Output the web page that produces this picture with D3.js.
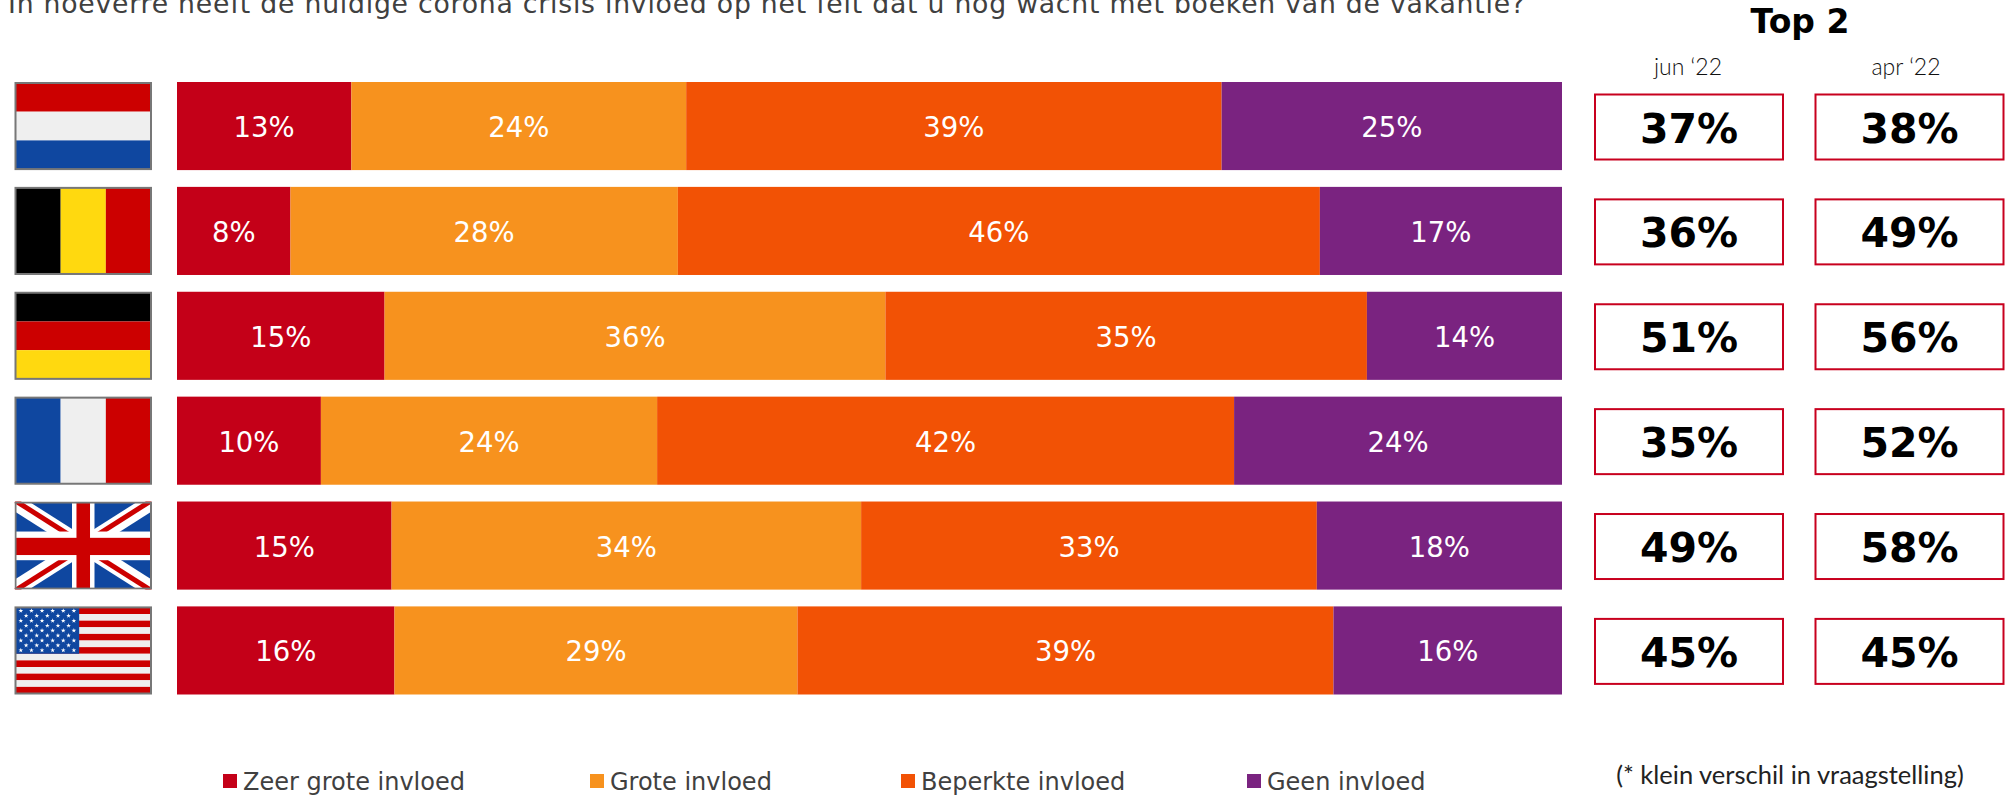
<!DOCTYPE html>
<html><head><meta charset="utf-8">
<script src="https://cdn.jsdelivr.net/npm/d3@7"></script>
<style>html,body{margin:0;padding:0;background:#fff;overflow:hidden}svg{display:block}
text{font-family:"DejaVu Sans",sans-serif}</style></head><body>
<svg id="c" width="2005" height="795"></svg>
<script>
const countries=["NL","BE","DE","FR","UK","US"];
const seriesNames=["Zeer grote invloed","Grote invloed","Beperkte invloed","Geen invloed"];
const zeerGroot=[12.6,8.2,15.0,10.4,15.49,15.7];
const groot=[24.2,28.0,36.2,24.3,33.9,29.1];
const beperkt=[38.7,46.4,34.8,41.7,32.9,38.7];
const geen=[24.6,17.5,14.1,23.7,17.7,16.5];
const top2Jun=[37,36,51,35,49,45];
const top2Apr=[38,49,56,52,58,45];
const barLabels=[[13,24,39,25],[8,28,46,17],[15,36,35,14],[10,24,42,24],[15,34,33,18],[16,29,39,16]];
const periods=["jun ‘22","apr ‘22"];
const seriesColors=["#c40018","#f7921e","#f25205","#7a2380"];
const titleText="In hoeverre heeft de huidige corona crisis invloed op het feit dat u nog wacht met boeken van de vakantie?";
const noteText="(* klein verschil in vraagstelling)";

const svg=d3.select("#c");
const rows=countries.map((c,i)=>({c,s0:zeerGroot[i],s1:groot[i],s2:beperkt[i],s3:geen[i]}));
const y=d3.scaleBand().domain(countries).range([82,694.5]).paddingInner(0.16);
const x=d3.scaleLinear().domain([0,1]).range([177,1562]);
const stack=d3.stack().keys(["s0","s1","s2","s3"]).offset(d3.stackOffsetExpand);

svg.append("text").attr("x",8).attr("y",13).attr("font-size",26.7).attr("fill","#404040").attr("textLength",1517).attr("lengthAdjust","spacing").text(titleText);

// bars
const layers=svg.selectAll("g.layer").data(stack(rows)).join("g").attr("class","layer").attr("fill",(d,i)=>seriesColors[i]);
layers.selectAll("rect").data(d=>d).join("rect")
 .attr("x",d=>x(d[0])).attr("width",d=>x(d[1])-x(d[0]))
 .attr("y",d=>y(d.data.c)).attr("height",y.bandwidth());
svg.append("g").selectAll("g").data(stack(rows)).join("g").each(function(layer,i){
 d3.select(this).selectAll("text").data(layer).join("text")
  .attr("x",d=>(x(d[0])+x(d[1]))/2).attr("y",d=>y(d.data.c)+y.bandwidth()/2+11)
  .attr("text-anchor","middle").attr("font-size",27.5).attr("fill","#fff")
  .text((d,r)=>barLabels[r][i]+"%");
});

// flags
const fx=d3.scaleLinear().domain([0,1]).range([15.5,151]);
const red="#cc0000",blue="#0f47a0",white="#efefef",yellow="#ffd90f",black="#000";
const hStripes={NL:[red,white,blue],DE:[black,red,yellow]};
const vStripes={BE:[black,yellow,red],FR:[blue,white,red]};
countries.forEach((c,ci)=>{
 const g=svg.append("g");
 const fy=d3.scaleLinear().domain([0,1]).range([y(c)+1,y(c)+y.bandwidth()-1]);
 const R=(a,b,w,h,f)=>g.append("rect").attr("x",fx(a)).attr("y",fy(b)).attr("width",fx(a+w)-fx(a)).attr("height",fy(b+h)-fy(b)).attr("fill",f);
 if(hStripes[c]) hStripes[c].forEach((f,i)=>R(0,i/3,1,1/3,f));
 if(vStripes[c]) vStripes[c].forEach((f,i)=>R(i/3,0,1/3,1,f));
 if(c==="UK"){
  const id="clip-uk";
  svg.append("clipPath").attr("id",id).append("rect").attr("x",fx(0)-1).attr("y",fy(0)-1).attr("width",fx(1)-fx(0)+2).attr("height",fy(1)-fy(0)+2);
  g.attr("clip-path",`url(#${id})`);
  R(0,0,1,1,blue);
  const L=(a,b,cc,dd,col,w)=>g.append("line").attr("x1",fx(a)).attr("y1",fy(b)).attr("x2",fx(cc)).attr("y2",fy(dd)).attr("stroke",col).attr("stroke-width",w);
  L(0,0,1,1,"#fff",16);L(0,1,1,0,"#fff",16);
  L(0,-0.02,0.5,0.48,red,5);L(0.5,0.52,1,1.02,red,5);
  L(0,1.02,0.5,0.52,red,5);L(0.5,0.48,1,-0.02,red,5);
  R(0.417,0,0.166,1,"#fff");R(0,0.337,1,0.333,"#fff");
  R(0.45,0,0.1,1,red);R(0,0.41,1,0.2,red);
 }
 if(c==="US"){
  d3.range(13).forEach(i=>R(0,i/13,1,1/13,i%2?white:red));
  R(0,0,0.47,7/13,blue);
  const star=d3.symbol().type(d3.symbolStar).size(7);
  d3.range(9).forEach(r=>{
   const n=r%2?5:6;
   d3.range(n).forEach(k=>{
    g.append("path").attr("d",star).attr("fill","#fff")
     .attr("transform",`translate(${fx(0.47*((k+(r%2?1:0.5))/6))},${fy((7/13)*((r+0.7)/9.4))})`);
   });
  });
 }
 g.append("rect").attr("x",fx(0)).attr("y",fy(0)).attr("width",fx(1)-fx(0)).attr("height",fy(1)-fy(0)).attr("fill","none").attr("stroke","#777").attr("stroke-width",2);
});

// top 2 boxes
const cols=[{v:top2Jun,x0:1595,w:188,tx:1688},{v:top2Apr,x0:1815.5,w:188,tx:1906}];
svg.append("text").attr("x",1800).attr("y",33).attr("text-anchor","middle").attr("font-size",33).attr("font-weight","bold").attr("fill","#000").text("Top 2");
cols.forEach((col,ci)=>{
 svg.append("text").attr("x",col.tx).attr("y",75).attr("text-anchor","middle").attr("font-size",23).attr("font-weight",300).attr("fill","#111").style("font-family","Lato").text(periods[ci]);
 const g=svg.append("g");
 g.selectAll("rect").data(col.v).join("rect")
  .attr("x",col.x0).attr("width",col.w).attr("y",(d,i)=>y(countries[i])+12.5).attr("height",65)
  .attr("fill","#fff").attr("stroke","#c8001e").attr("stroke-width",2);
 g.selectAll("text").data(col.v).join("text")
  .attr("x",col.x0+col.w/2).attr("y",(d,i)=>y(countries[i])+60.5).attr("text-anchor","middle")
  .attr("font-size",41).attr("font-weight","bold").attr("fill","#000").text(d=>d+"%");
});

// legend
const legendX=d3.scaleOrdinal().domain(seriesNames).range([223,590,901,1247]);
const leg=svg.append("g").selectAll("g").data(seriesNames).join("g").attr("transform",d=>`translate(${legendX(d)},0)`);
leg.append("rect").attr("y",774).attr("width",14).attr("height",14).attr("fill",(d,i)=>seriesColors[i]);
leg.append("text").attr("x",20).attr("y",789.5).attr("font-size",24).attr("fill","#404040").text(d=>d);

svg.append("text").attr("x",1790).attr("y",784).attr("text-anchor","middle").attr("font-size",25.5).attr("font-weight",400).style("font-family","Lato").attr("fill","#222").text(noteText);
</script></body></html>
